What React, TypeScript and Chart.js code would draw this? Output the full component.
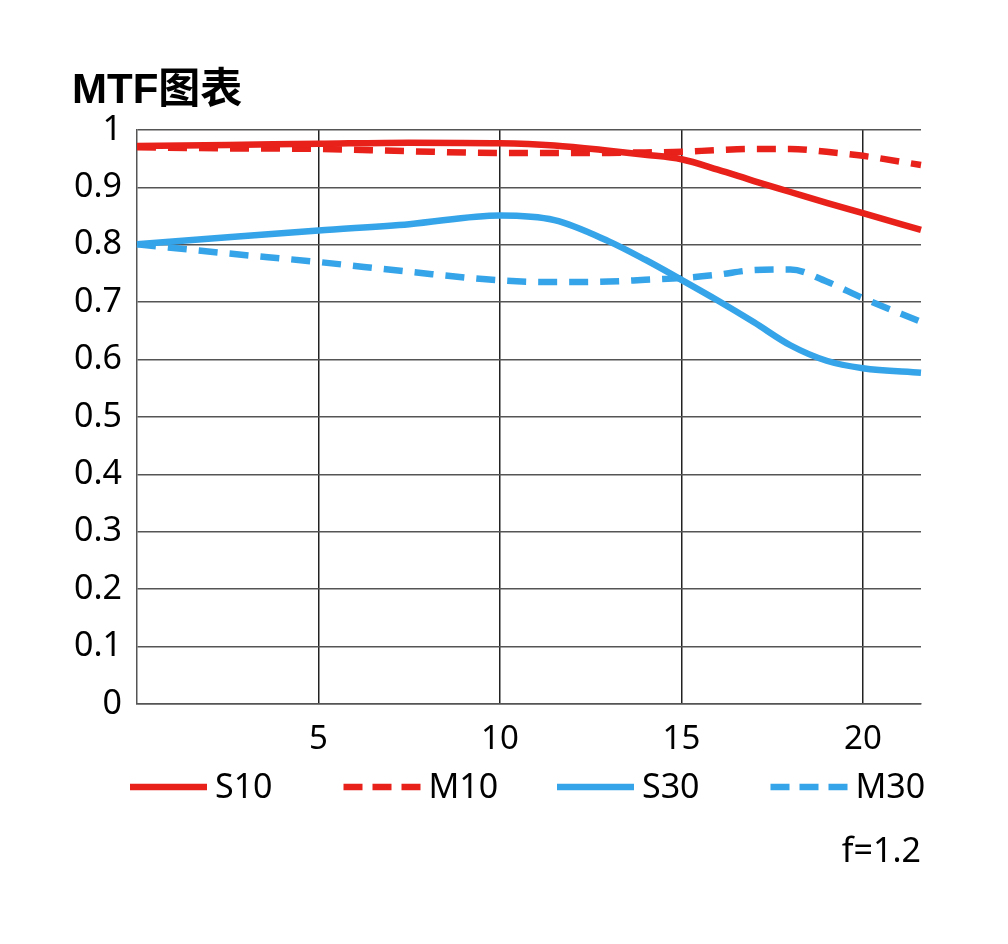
import React, { useEffect, useRef } from "react";
import { Chart, registerables } from "chart.js";

Chart.register(...registerables);

const fieldX = [0, 2.5, 5, 7.5, 10, 11.5, 13, 14, 15, 16, 17, 18, 19, 20, 21.6];
const s10 = [0.972, 0.974, 0.976, 0.978, 0.977, 0.973, 0.964, 0.957, 0.949, 0.931, 0.911, 0.892, 0.873, 0.855, 0.826];
const m10 = [0.970, 0.968, 0.967, 0.963, 0.960, 0.960, 0.960, 0.961, 0.962, 0.965, 0.967, 0.967, 0.962, 0.955, 0.939];
const s30 = [0.801, 0.813, 0.825, 0.836, 0.851, 0.843, 0.806, 0.774, 0.739, 0.703, 0.665, 0.625, 0.598, 0.585, 0.577];
const m30 = [0.801, 0.785, 0.770, 0.753, 0.738, 0.735, 0.736, 0.739, 0.742, 0.748, 0.756, 0.757, 0.736, 0.707, 0.666];
const seriesNames = ["S10", "M10", "S30", "M30"];
const xTickValues = [5, 10, 15, 20];
const titleText = "MTF图表";
const noteText = "f=1.2";

const RED = "#e8211b";
const BLUE = "#36a4e8";
const FONT = "'Noto Sans', 'Open Sans', sans-serif";

const toPoints = (ys: number[]) => ys.map((y, i) => ({ x: fieldX[i], y }));

const extrasPlugin = {
  id: "extras",
  afterDraw(chart: any) {
    const ctx = chart.ctx as CanvasRenderingContext2D;
    const area = chart.chartArea;
    ctx.save();
    // title
    ctx.fillStyle = "#000";
    ctx.font = `bold 42px 'Liberation Sans', 'Noto Sans CJK SC', sans-serif`;
    ctx.textAlign = "left";
    ctx.textBaseline = "alphabetic";
    ctx.fillText(titleText, 64, 95);
    // legend
    const legendY = area.bottom + 83;
    const startX = 122;
    const step = 213.5;
    const lineLen = 77;
    chart.data.datasets.forEach((ds: any, i: number) => {
      const x0 = startX + i * step;
      ctx.beginPath();
      ctx.strokeStyle = ds.borderColor;
      ctx.lineWidth = 6.5;
      ctx.setLineDash(ds.borderDash && ds.borderDash.length ? [19, 10] : []);
      ctx.moveTo(x0, legendY);
      ctx.lineTo(x0 + lineLen, legendY);
      ctx.stroke();
      ctx.setLineDash([]);
      ctx.fillStyle = "#000";
      ctx.font = `34px ${FONT}`;
      ctx.textBaseline = "middle";
      ctx.textAlign = "left";
      ctx.fillText(ds.label, x0 + lineLen + 8, legendY + 1);
    });
    // note
    ctx.font = `34px ${FONT}`;
    ctx.textAlign = "right";
    ctx.textBaseline = "middle";
    ctx.fillText(noteText, area.right, area.bottom + 148);
    ctx.restore();
  },
};

export default function App() {
  const ref = useRef<HTMLCanvasElement | null>(null);
  useEffect(() => {
    if (!ref.current) return;
    const chart = new Chart(ref.current, {
      type: "line",
      data: {
        datasets: [
          { label: seriesNames[0], data: toPoints(s10), borderColor: RED, borderWidth: 6.5, borderDash: [] },
          { label: seriesNames[1], data: toPoints(m10), borderColor: RED, borderWidth: 6.5, borderDash: [19, 12] },
          { label: seriesNames[2], data: toPoints(s30), borderColor: BLUE, borderWidth: 6.5, borderDash: [] },
          { label: seriesNames[3], data: toPoints(m30), borderColor: BLUE, borderWidth: 6.5, borderDash: [19, 12] },
        ] as any,
      },
      options: {
        animation: false,
        responsive: false,
        devicePixelRatio: 1,
        clip: false as any,
        elements: {
          point: { radius: 0 },
          line: { cubicInterpolationMode: "monotone", fill: false, borderCapStyle: "butt" },
        },
        layout: { padding: { left: 0, top: 122, right: 79, bottom: 0 } },
        plugins: { legend: { display: false }, title: { display: false }, tooltip: { enabled: false } },
        scales: {
          x: {
            type: "linear",
            min: 0,
            max: 21.6,
            afterBuildTicks: (axis: any) => {
              axis.ticks = xTickValues.map((v) => ({ value: v }));
            },
            afterFit: (axis: any) => {
              axis.height = 232;
            },
            grid: { color: "#222", lineWidth: 1.5, drawTicks: false },
            border: { color: "#555", width: 1.5 },
            ticks: {
              color: "#000",
              font: { family: FONT, size: 33 },
              padding: 16,
              maxRotation: 0,
              autoSkip: false,
            },
          },
          y: {
            type: "linear",
            min: 0,
            max: 1,
            afterFit: (axis: any) => {
              axis.width = 129;
            },
            grid: { color: "#555", lineWidth: 1.5, drawTicks: false },
            border: { color: "#555", width: 1.5 },
            ticks: {
              stepSize: 0.1,
              color: "#000",
              font: { family: FONT, size: 34 },
              padding: 15,
              callback: (v: any) => Number(v).toFixed(1).replace(/\.0$/, ""),
            },
          },
        },
      },
      plugins: [extrasPlugin],
    });
    return () => chart.destroy();
  }, []);
  return (
    <div style={{ width: 992, height: 928 }}>
      <canvas ref={ref} width={992} height={928} style={{ display: "block" }} />
    </div>
  );
}
